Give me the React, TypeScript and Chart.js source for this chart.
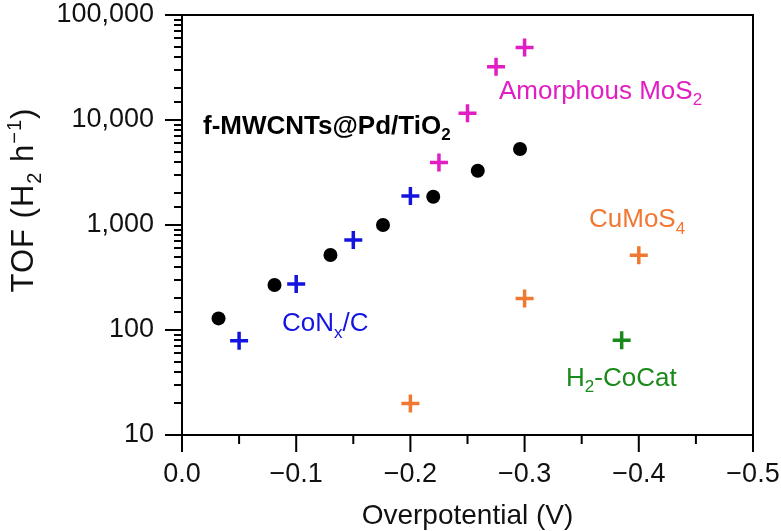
import React, { useEffect, useRef } from 'react';
import { Chart, registerables } from 'chart.js';

Chart.register(...registerables);

// ---- Data (overpotential in V, TOF in H2 per hour) ----
const mwcntX = [-0.032, -0.081, -0.13, -0.176, -0.22, -0.259, -0.296];
const mwcntY = [129, 268, 518, 1000, 1860, 3290, 5300];
const conxX = [-0.05, -0.1, -0.15, -0.2];
const conxY = [79, 274, 720, 1890];
const mos2X = [-0.225, -0.25, -0.275, -0.3];
const mos2Y = [3930, 11600, 32200, 49000];
const cumosX = [-0.2, -0.3, -0.4];
const cumosY = [20, 200, 515];
const cocatX = [-0.385];
const cocatY = [80];

const yMajorTicks = [10, 100, 1000, 10000, 100000];
const xTickLabels = ['0.0', '\u22120.1', '\u22120.2', '\u22120.3', '\u22120.4', '\u22120.5'];

// Annotation labels: text parts ([text, 'n'|'sub'|'sup']), anchor in data coords (left, baseline)
const labelParts: [string, string][][] = [
  [['f-MWCNTs@Pd/TiO', 'n'], ['2', 'sub']],
  [['Amorphous MoS', 'n'], ['2', 'sub']],
  [['CuMoS', 'n'], ['4', 'sub']],
  [['CoN', 'n'], ['x', 'sub'], ['/C', 'n']],
  [['H', 'n'], ['2', 'sub'], ['-CoCat', 'n']],
];
const labelX = [-0.0184, -0.2776, -0.3564, -0.0876, -0.3363];
const labelY = [7360, 15850, 957, 97.8, 29.3];
const labelColors = ['#000000', '#e01ec4', '#f07832', '#1414e0', '#1a8a1a'];
const labelBold = [true, false, false, false, false];

const FONT = '"Liberation Sans", Arial, Helvetica, sans-serif';

function toPoints(xs: number[], ys: number[]) {
  return xs.map((x, i) => ({ x, y: ys[i] }));
}

function drawParts(ctx: CanvasRenderingContext2D, parts: [string, string][], x: number, y: number, size: number, bold: boolean, measureOnly = false) {
  let cx = x;
  const w = bold ? 'bold ' : '';
  for (const [t, kind] of parts) {
    let fs = size;
    let dy = 0;
    if (kind === 'sub') { fs = Math.round(size * 0.66); dy = size * 0.25; }
    if (kind === 'sup') { fs = Math.round(size * 0.66); dy = -size * 0.4; }
    ctx.font = `${w}${fs}px ${FONT}`;
    if (!measureOnly) ctx.fillText(t, cx, y + dy);
    cx += ctx.measureText(t).width;
  }
  return cx - x;
}

const decorPlugin = {
  id: 'decor',
  afterDraw(chart: any) {
    const ctx: CanvasRenderingContext2D = chart.ctx;
    const { left, right, top, bottom } = chart.chartArea;
    const xs = chart.scales.x;
    const ys = chart.scales.y;
    ctx.save();
    ctx.strokeStyle = '#000';
    ctx.lineWidth = 2;
    ctx.strokeRect(left, top, right - left, bottom - top);
    ctx.beginPath();
    xs.ticks.forEach((t: any) => {
      const px = xs.getPixelForValue(t.value);
      const major = Math.abs(Math.round(t.value * 10) - t.value * 10) < 1e-6;
      const len = major ? 17 : 9;
      ctx.moveTo(px, bottom);
      ctx.lineTo(px, bottom + len);
    });
    ys.ticks.forEach((t: any) => {
      const py = Math.round(ys.getPixelForValue(t.value));
      const lg = Math.log10(t.value);
      const major = Math.abs(lg - Math.round(lg)) < 1e-6;
      const len = major ? 17 : 8;
      ctx.moveTo(left - len, py);
      ctx.lineTo(left, py);
    });
    ctx.stroke();

    // annotation labels
    ctx.textBaseline = 'alphabetic';
    ctx.textAlign = 'left';
    labelParts.forEach((parts, i) => {
      ctx.fillStyle = labelColors[i];
      const px = xs.getPixelForValue(labelX[i]);
      const py = ys.getPixelForValue(labelY[i]);
      drawParts(ctx, parts, px, py, 26, labelBold[i]);
    });

    // axis titles
    ctx.fillStyle = '#111';
    ctx.font = `28px ${FONT}`;
    ctx.textAlign = 'center';
    ctx.fillText('Overpotential (V)', (left + right) / 2, 524);

    const yParts: [string, string][] = [['TOF (H', 'n'], ['2', 'sub'], [' h', 'n'], ['\u22121', 'sup'], [')', 'n']];
    ctx.textAlign = 'left';
    (ctx as any).letterSpacing = '1px';
    const w = drawParts(ctx, yParts, 0, 0, 31, false, true);
    ctx.translate(33, 200);
    ctx.rotate(-Math.PI / 2);
    drawParts(ctx, yParts, -w / 2, 0, 31, false);
    (ctx as any).letterSpacing = '0px';
    ctx.restore();
  },
};

export default function App() {
  const ref = useRef<HTMLCanvasElement | null>(null);
  useEffect(() => {
    if (!ref.current) return;
    const cross = (data: any, color: string, label: string) => ({
      label,
      data,
      showLine: false,
      pointStyle: 'cross',
      pointRadius: 9,
      pointBorderWidth: 3.5,
      borderColor: color,
      backgroundColor: color,
    });
    const chart = new Chart(ref.current, {
      type: 'scatter',
      data: {
        datasets: [
          {
            label: 'f-MWCNTs@Pd/TiO2',
            data: toPoints(mwcntX, mwcntY),
            pointStyle: 'circle',
            pointRadius: 7,
            borderWidth: 0,
            backgroundColor: '#000',
            borderColor: '#000',
          },
          cross(toPoints(conxX, conxY), '#1414e0', 'CoNx/C'),
          cross(toPoints(mos2X, mos2Y), '#e01ec4', 'Amorphous MoS2'),
          cross(toPoints(cumosX, cumosY), '#f07832', 'CuMoS4'),
          cross(toPoints(cocatX, cocatY), '#1a8a1a', 'H2-CoCat'),
        ],
      },
      options: {
        responsive: false,
        animation: false,
        layout: { padding: { top: 15, right: 28, left: 0, bottom: 0 } },
        plugins: { legend: { display: false }, tooltip: { enabled: false } },
        scales: {
          x: {
            type: 'linear',
            min: -0.5,
            max: 0,
            reverse: true,
            grid: { display: true, drawOnChartArea: false, drawTicks: true, tickLength: 23, tickColor: 'rgba(0,0,0,0)' },
            border: { display: false },
            afterFit: (s: any) => { s.height = 96; },
            ticks: {
              stepSize: 0.05,
              autoSkip: false,
              maxRotation: 0,
              padding: 0,
              color: '#111',
              font: { family: FONT, size: 27 },
              callback: (v: any) => {
                const n = Math.round(-Number(v) * 10);
                if (Math.abs(-Number(v) * 10 - n) > 1e-6) return '';
                return xTickLabels[n] ?? '';
              },
            },
          },
          y: {
            type: 'logarithmic',
            min: 10,
            max: 100000,
            grid: { display: true, drawOnChartArea: false, drawTicks: true, tickLength: 28, tickColor: 'rgba(0,0,0,0)' },
            border: { display: false },
            afterFit: (s: any) => { s.width = 182; },
            ticks: {
              autoSkip: false,
              padding: 0,
              color: '#111',
              font: { family: FONT, size: 27, lineHeight: 1 },
              callback: (v: any) => {
                const val = Number(v);
                const idx = yMajorTicks.findIndex((m) => Math.abs(m - val) < 1e-6 * m);
                return idx >= 0 ? yMajorTicks[idx].toLocaleString('en-US') : '';
              },
            },
          },
        },
      },
      plugins: [decorPlugin],
    } as any);
    return () => chart.destroy();
  }, []);
  return (
    <div style={{ position: 'fixed', left: 0, top: 0, width: 781, height: 531, background: '#fff' }}>
      <canvas ref={ref} width={781} height={531} />
    </div>
  );
}
